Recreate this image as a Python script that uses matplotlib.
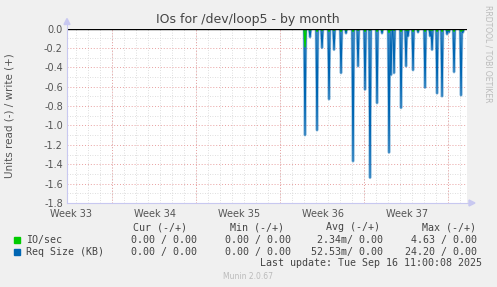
import numpy as np
import matplotlib
matplotlib.use("Agg")
import matplotlib.pyplot as plt
from matplotlib.lines import Line2D
from matplotlib.patches import Rectangle, Polygon

# time axis in days from the left edge of the graph (2 h samples)
span_days = 33.33
week_labels = ["Week 33", "Week 34", "Week 35", "Week 36", "Week 37"]
week_label_days = [0.33, 7.33, 14.33, 21.33, 28.33]
monday_days = [3.75, 10.75, 17.75, 24.75, 31.75]

# read spikes (drawn negative)
spike_days = [19.83, 20.25, 20.86, 21.28, 21.86, 22.28, 22.86, 23.25, 23.86,
              24.28, 24.86, 25.28, 25.86, 26.25, 26.86, 27.0, 27.28, 27.86,
              28.28, 28.4, 28.86, 29.25, 29.86, 30.25, 30.4, 30.83, 31.28,
              31.64, 31.83, 32.28, 32.83, 32.97]
req_size = [-1.10, -0.09, -1.05, -0.20, -0.73, -0.22, -0.46, -0.05, -1.37,
            -0.39, -0.63, -1.54, -0.77, -0.05, -1.28, -0.48, -0.46, -0.82,
            -0.39, -0.08, -0.43, -0.04, -0.61, -0.08, -0.22, -0.67, -0.70,
            -0.06, -0.04, -0.45, -0.69, -0.04]
io_sec = [-0.19, -0.02, -0.03, -0.02, -0.03, -0.02, -0.03, -0.02, -0.03,
          -0.02, -0.03, -0.02, -0.03, -0.02, -0.04, -0.02, -0.02, -0.03,
          -0.02, -0.02, -0.03, -0.02, -0.03, -0.02, -0.02, -0.03, -0.03,
          -0.02, -0.02, -0.03, -0.03, -0.02]

legend_rows = [
    ("IO/sec", "#00CC00", "0.00 / 0.00", "0.00 / 0.00", "2.34m/ 0.00", "4.63 / 0.00"),
    ("Req Size (KB)", "#0066B3", "0.00 / 0.00", "0.00 / 0.00", "52.53m/ 0.00", "24.20 / 0.00"),
]
headers = ["Cur (-/+)", "Min (-/+)", "Avg (-/+)", "Max (-/+)"]

W, H = 497, 287
fig = plt.figure(figsize=(W / 100, H / 100), dpi=100)
fig.patch.set_facecolor("#F0F0F0")


def fx(x):
    return x / W


def fy(y):
    return 1 - y / H


x0, x1, ytop, ybot = 67, 467, 28.5, 203
ax = fig.add_axes([fx(x0), fy(ybot), (x1 - x0) / W, (ybot - ytop) / H])
ax.set_facecolor("white")

t = np.arange(0, span_days, 1 / 12)
blue = np.zeros_like(t)
green = np.zeros_like(t)
for d, v, g in zip(spike_days, req_size, io_sec):
    i = int(round(d * 12))
    blue[i] = v
    green[i] = g

# grid
minor = np.arange(0, 34, 1.0) + 0.75
for d in minor:
    ax.axvline(d, color="#d4d4d4", lw=0.6, ls=(0, (1, 2)), zorder=0)
for y in np.arange(-1.7, 0, 0.2):
    ax.axhline(y, color="#d4d4d4", lw=0.6, ls=(0, (1, 2)), zorder=0)
for d in monday_days:
    ax.axvline(d, color="#E8A0A0", lw=0.7, ls=(0, (1, 2)), zorder=1)
for y in np.arange(-1.8, 0.01, 0.2):
    ax.axhline(y, color="#E8A0A0", lw=0.7, ls=(0, (1, 2)), zorder=1)

ax.plot(t, blue, color="#0066B3", lw=2.0, alpha=0.35, zorder=2)
ax.plot(t, blue, color="#0066B3", lw=0.9, zorder=3)
ax.plot(t, green, color="#00CC00", lw=1.0, zorder=4)
ax.axhline(0, color="black", lw=1.0, zorder=5)

ax.set_xlim(0, span_days)
ax.set_ylim(-1.8, 0)
yt = np.arange(-1.8, 0.01, 0.2)
ax.set_yticks(yt)
ax.set_yticklabels(["0.0" if abs(v) < 1e-9 else f"{v:.1f}" for v in yt])
ax.set_xticks(week_label_days)
ax.set_xticklabels(week_labels)
ax.tick_params(axis="both", length=0, labelsize=7, labelcolor="#555555")
ax.tick_params(axis="y", pad=3)
ax.tick_params(axis="x", pad=4)
for s in ax.spines.values():
    s.set_visible(False)

# axes lines with arrows
axis_c = "#C8C8F0"
fig.add_artist(Line2D([fx(x0), fx(x0)], [fy(ybot), fy(ytop - 6)], color=axis_c, lw=0.8))
fig.add_artist(Line2D([fx(x0), fx(x1 + 4)], [fy(ybot), fy(ybot)], color=axis_c, lw=0.8))
fig.add_artist(Polygon([(fx(x0 - 3), fy(ytop - 4)), (fx(x0 + 3), fy(ytop - 4)), (fx(x0), fy(ytop - 10))],
                       closed=True, color=axis_c, transform=fig.transFigure))
fig.add_artist(Polygon([(fx(x1 + 2), fy(ybot - 3)), (fx(x1 + 2), fy(ybot + 3)), (fx(x1 + 8), fy(ybot))],
                       closed=True, color=axis_c, transform=fig.transFigure))

fig.text(fx(248), fy(20), "IOs for /dev/loop5 - by month", ha="center", va="center",
         fontsize=9, color="#444444")
fig.text(fx(10), fy(116), "Units read (-) / write (+)", rotation=90, ha="center", va="center",
         fontsize=7.5, color="#555555")
fig.text(fx(488), fy(54), "RRDTOOL / TOBI OETIKER", rotation=270, ha="center", va="center",
         fontsize=5.5, color="#BBBBBB")

mono = dict(family="DejaVu Sans Mono", fontsize=7.2, color="#444444", va="center")
header_right = [187.3, 284, 380, 476]
for h, xr in zip(headers, header_right):
    fig.text(fx(xr), fy(227.3), h, ha="right", **mono)

value_right = [196.7, 291, 383.3, 476.7]
for (name, col, *vals), yy in zip(legend_rows, [239.7, 251.7]):
    fig.add_artist(Rectangle((fx(14), fy(yy + 3)), 6 / W, 6 / H, color=col,
                             transform=fig.transFigure))
    fig.text(fx(26.3), fy(yy), name, ha="left", **mono)
    for v, xr in zip(vals, value_right):
        fig.text(fx(xr), fy(yy), v, ha="right", **mono)

fig.text(fx(482.3), fy(263.3), "Last update: Tue Sep 16 11:00:08 2025", ha="right", **mono)
fig.text(fx(248), fy(276.3), "Munin 2.0.67", ha="center", va="center", fontsize=5.5, color="#BBBBBB")

fig.savefig("out.png", dpi=100, facecolor=fig.get_facecolor())
